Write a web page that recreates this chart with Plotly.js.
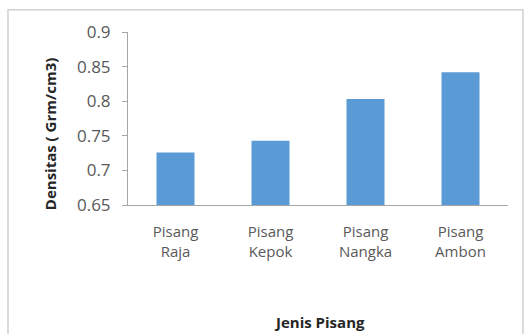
<!DOCTYPE html>
<html>
<head>
<meta charset="utf-8">
<script src="https://cdn.plot.ly/plotly-3.0.1.min.js"></script>
<style>html,body{margin:0;padding:0;background:#fff;}#chart{width:525px;height:334px;}</style>
</head>
<body>
<div id="chart"></div>
<script>
const categories = ["Pisang<br>Raja", "Pisang<br>Kepok", "Pisang<br>Nangka", "Pisang<br>Ambon"];
const densitas = [0.726, 0.743, 0.803, 0.842];
const yTickVals = [0.65, 0.7, 0.75, 0.8, 0.85, 0.9];
const yTickText = ["0.65", "0.7", "0.75", "0.8", "0.85", "0.9"];
const yTitle = "Densitas ( Grm/cm3)";
const xTitle = "Jenis Pisang";

const font = "'Open Sans', 'Liberation Sans', sans-serif";
const axisColor = "#a6a6a6";

Plotly.newPlot("chart", [{
  type: "bar",
  x: categories,
  y: densitas,
  marker: {color: "#5b9bd5"},
  width: 0.4,
  hoverinfo: "none"
}], {
  width: 525, height: 334,
  margin: {l: 128, r: 17, t: 32, b: 129},
  paper_bgcolor: "#ffffff",
  plot_bgcolor: "#ffffff",
  showlegend: false,
  font: {family: font, color: "#595959", size: 15},
  xaxis: {
    type: "category",
    showline: true, linecolor: axisColor, linewidth: 1,
    ticks: "", showgrid: false, zeroline: false,
    tickfont: {family: font, size: 15, color: "#595959"},
    ticklabelstandoff: 13,
    fixedrange: true
  },
  yaxis: {
    range: [0.65, 0.9],
    tickvals: yTickVals, ticktext: yTickText,
    showline: true, linecolor: axisColor, linewidth: 1,
    ticks: "outside", ticklen: 5, tickcolor: axisColor,
    showgrid: false, zeroline: false,
    tickfont: {family: font, size: 17, color: "#595959"},
    ticklabelstandoff: 8,
    fixedrange: true
  },
  annotations: [
    {text: "<b>" + yTitle + "</b>", xref: "paper", yref: "paper", x: -0.205, y: 0.41,
     textangle: -90, showarrow: false, xanchor: "center", yanchor: "middle",
     font: {family: font, size: 15, color: "#262626"}},
    {text: "<b>" + xTitle + "</b>", xref: "paper", yref: "paper", x: 0.503, y: -0.677,
     showarrow: false, xanchor: "center", yanchor: "middle",
     font: {family: font, size: 15, color: "#262626"}}
  ],
  shapes: [
    {type: "rect", xref: "paper", yref: "paper", x0: -0.3158, x1: 1.0395, y0: -0.85, y1: 1.129,
     line: {color: "#d0d0d0", width: 1.5}, fillcolor: "rgba(0,0,0,0)", layer: "below"}
  ]
}, {staticPlot: true});
</script>
</body>
</html>
